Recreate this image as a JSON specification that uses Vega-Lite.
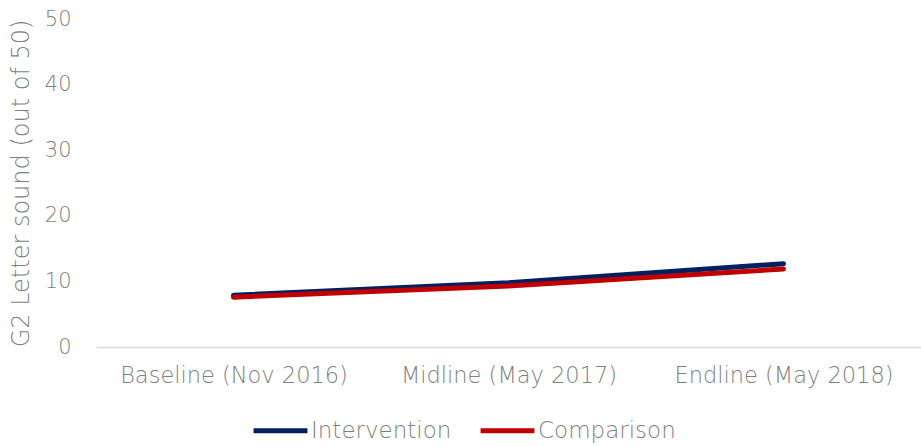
{
  "$schema": "https://vega.github.io/schema/vega-lite/v6.json",
  "width": 825,
  "height": 328,
  "autosize": {"type": "none"},
  "padding": {"left": 96, "top": 19, "right": 0, "bottom": 100},
  "background": "white",
  "data": {
    "values": [
      {"round": "Baseline (Nov 2016)", "group": "Intervention", "score": 7.9},
      {"round": "Midline (May 2017)", "group": "Intervention", "score": 9.8},
      {"round": "Endline (May 2018)", "group": "Intervention", "score": 12.7},
      {"round": "Baseline (Nov 2016)", "group": "Comparison", "score": 7.6},
      {"round": "Midline (May 2017)", "group": "Comparison", "score": 9.3},
      {"round": "Endline (May 2018)", "group": "Comparison", "score": 11.9}
    ]
  },
  "mark": {"type": "line", "strokeWidth": 5, "strokeCap": "round", "strokeJoin": "round"},
  "encoding": {
    "x": {
      "field": "round",
      "type": "ordinal",
      "sort": ["Baseline (Nov 2016)", "Midline (May 2017)", "Endline (May 2018)"],
      "scale": {"type": "point", "padding": 0.5},
      "axis": {
        "title": null,
        "labelAngle": 0,
        "labelFont": "DejaVu Sans",
        "labelFontWeight": 200,
        "labelFontSize": 22.5,
        "labelLimit": 0,
        "labelColor": "#7f7f7f",
        "labelPadding": 17,
        "ticks": false,
        "domainColor": "#d9d9d9",
        "domainWidth": 1.5,
        "grid": false
      }
    },
    "y": {
      "field": "score",
      "type": "quantitative",
      "scale": {"domain": [0, 50]},
      "axis": {
        "title": "G2 Letter sound (out of 50)",
        "titleFont": "DejaVu Sans",
        "titleFontSize": 24,
        "titleFontWeight": 200,
        "titleColor": "#7f7f7f",
        "titlePadding": 11,
        "values": [0, 10, 20, 30, 40, 50],
        "labelFont": "DejaVu Sans",
        "labelFontWeight": 200,
        "labelFontSize": 21,
        "labelColor": "#7f7f7f",
        "labelPadding": 25,
        "ticks": false,
        "domain": false,
        "grid": false
      }
    },
    "color": {
      "field": "group",
      "type": "nominal",
      "sort": ["Intervention", "Comparison"],
      "scale": {"domain": ["Intervention", "Comparison"], "range": ["#002060", "#C00000"]},
      "legend": {
        "title": null,
        "orient": "none",
        "direction": "horizontal",
        "legendX": 155,
        "legendY": 382,
        "symbolType": "stroke",
        "symbolStrokeWidth": 5,
        "symbolSize": 2900,
        "labelFont": "DejaVu Sans",
        "labelFontWeight": 200,
        "labelFontSize": 23,
        "labelLimit": 0,
        "labelColor": "#7f7f7f",
        "labelOffset": 1,
        "columnPadding": 18
      }
    }
  },
  "config": {"view": {"stroke": null}}
}
